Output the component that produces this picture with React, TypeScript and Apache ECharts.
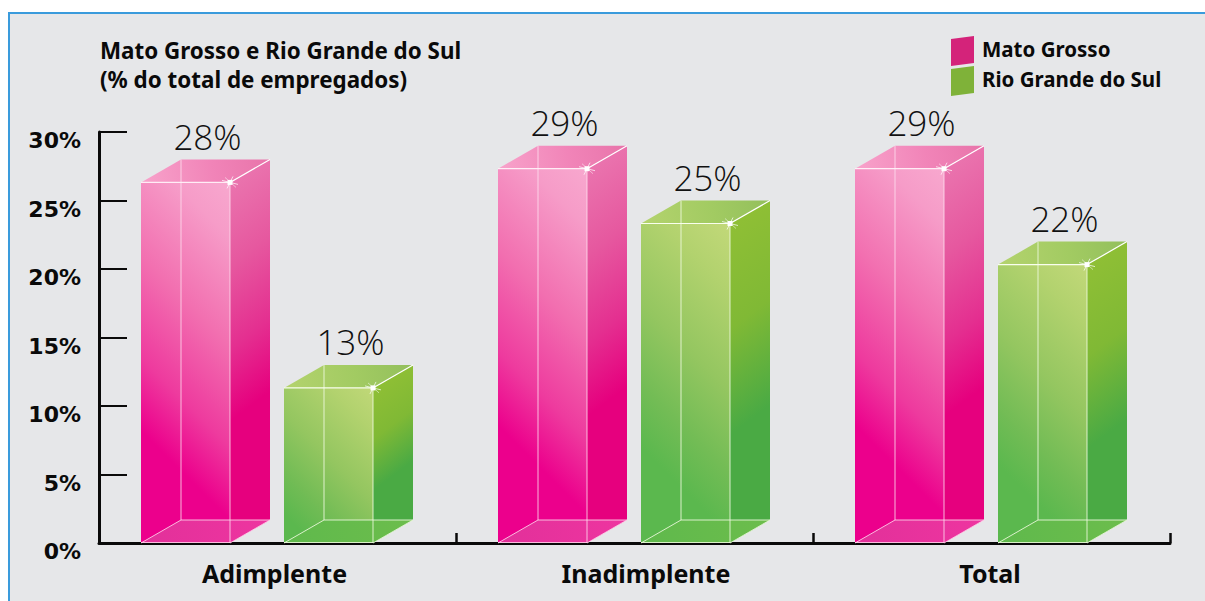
import React, { useEffect, useRef } from "react";
import * as echarts from "echarts";

const categories = ["Adimplente", "Inadimplente", "Total"];
const matoGrosso = [28, 29, 29];
const rioGrandeDoSul = [13, 25, 22];
const yTicks = [0, 5, 10, 15, 20, 25, 30];
const titleLines = ["Mato Grosso e Rio Grande do Sul", "(% do total de empregados)"];

type Stops = [number, string][];

// Gradient given in page pixels, so the shading angle stays true on tall, narrow faces.
const lg = (x0: number, y0: number, x1: number, y1: number, stops: Stops) =>
  new echarts.graphic.LinearGradient(
    x0, y0, x1, y1,
    stops.map(([offset, color]) => ({ offset, color })),
    true
  );

const pinkFaces = {
  front: [[0, "#f8abd0"], [0.2, "#f69cc8"], [0.5, "#f26fb0"], [0.78, "#ee3a9e"], [0.98, "#ec008c"], [1, "#ec008c"]] as Stops,
  side: [[0, "#ea74ae"], [0.35, "#e6589f"], [0.7, "#e42f90"], [1, "#e6007e"]] as Stops,
  top: [[0, "#f8a3cb"], [0.55, "#f184b8"], [1, "#e874aa"]] as Stops,
  floor: [[0, "#e2309a"], [1, "#ee35a0"]] as Stops,
  edge: "rgba(255,225,240,0.8)",
  edgeStrong: "rgba(255,240,248,0.95)",
};

const greenFaces = {
  front: [[0, "#c6da7c"], [0.25, "#b2d26e"], [0.55, "#94c660"], [0.8, "#72bc55"], [0.98, "#5bb84e"], [1, "#5bb84e"]] as Stops,
  side: [[0, "#8fbf35"], [0.5, "#80b935"], [1, "#4aaa44"]] as Stops,
  top: [[0, "#b4d36e"], [0.55, "#a2cb62"], [1, "#93bf5c"]] as Stops,
  floor: [[0, "#5fb94c"], [1, "#6cbd4c"]] as Stops,
  edge: "rgba(240,250,225,0.85)",
  edgeStrong: "rgba(250,255,240,0.98)",
};

const barWidth = 89;
const depthX = 40;
const depthY = 23;

function boxRenderer(offset: number, faces: typeof pinkFaces) {
  return (params: any, api: any) => {
    const value = api.value(1);
    const [cx, backTop] = api.coord([api.value(0), value]);
    const [, base] = api.coord([api.value(0), 0]);
    const l = cx + offset;
    const r = l + barWidth;
    const frontTop = backTop + depthY;
    const h = base - frontTop;

    const frontStartX = r - 15 + 28;
    const frontStartY = frontTop + 25 - 28;
    const frontRun = (100 + 0.43 * h) / Math.SQRT2;
    const frontFill = lg(frontStartX, frontStartY, frontStartX - frontRun, frontStartY + frontRun, faces.front);
    const sideRun = 0.53 * h;
    const sideFill = lg(r, frontTop, r + sideRun * 0.6, frontTop + sideRun * 0.8, faces.side);
    const topFill = lg(l, frontTop, r + depthX, backTop, faces.top);
    const floorFill = lg(l, base, r + depthX, base - depthY, faces.floor);

    const line = (x1: number, y1: number, x2: number, y2: number, stroke = faces.edge, lineWidth = 1) => ({
      type: "line",
      shape: { x1, y1, x2, y2 },
      style: { stroke, lineWidth, fill: null },
      silent: true,
    });
    const poly = (points: number[][], fill: any) => ({
      type: "polygon",
      shape: { points },
      style: { fill },
    });
    return {
      type: "group",
      children: [
        poly([[l, frontTop], [r, frontTop], [r, base], [l, base]], frontFill),
        poly([[r, frontTop], [r + depthX, backTop], [r + depthX, base - depthY], [r, base]], sideFill),
        poly([[l, frontTop], [l + depthX, backTop], [r + depthX, backTop], [r, frontTop]], topFill),
        poly([[l, base], [l + depthX, base - depthY], [r + depthX, base - depthY], [r, base]], floorFill),
        line(l + depthX, backTop, l + depthX, base - depthY),
        line(l + depthX, base - depthY, r + depthX, base - depthY),
        line(l, base, l + depthX, base - depthY),
        line(r, base, r + depthX, base - depthY),
        line(l, frontTop, r, frontTop, faces.edgeStrong, 1.2),
        line(r, frontTop, r, base),
        line(l, base - 0.5, r, base - 0.5),
        line(r, frontTop, r + depthX, backTop, "#ffffff", 1.2),
        // glint on the near top corner
        line(r - 8, frontTop - 2, r + 8, frontTop + 2, "rgba(255,255,255,0.7)", 1),
        line(r - 3, frontTop + 6, r + 3, frontTop - 6, "rgba(255,255,255,0.7)", 1),
        line(r - 5, frontTop - 5, r + 6, frontTop + 5, "rgba(255,255,255,0.5)", 1),
        {
          type: "rect",
          shape: { x: r - 2.5, y: frontTop - 2.5, width: 5, height: 5 },
          style: { fill: "#ffffff" },
        },
        {
          type: "text",
          style: {
            x: l + (barWidth + depthX) / 2 + 2,
            y: backTop - 23,
            text: `${value}%`,
            align: "center",
            verticalAlign: "middle",
            fill: "#111111",
            fontFamily: "Open Sans",
            fontWeight: 300,
            fontSize: 35,
          },
        },
      ],
    };
  };
}

const legendIcon = "path://M0,3 L23,0 L23,27 L0,30 Z";
const heading = { fontFamily: "Noto Sans", fontWeight: 700, color: "#0a0a0a" };
const axisName = { ...heading, fontSize: 25 };

export default function App() {
  const ref = useRef<HTMLDivElement>(null);
  useEffect(() => {
    document.body.style.margin = "0";
    const chart = echarts.init(ref.current!, undefined, { renderer: "svg" });
    const catData = categories.map((c, i) => i);
    chart.setOption({
      animation: false,
      backgroundColor: "#ffffff",
      graphic: [
        {
          type: "rect",
          z: -10,
          shape: { x: 9, y: 13, width: 1300, height: 700 },
          style: { fill: "#e6e7e9", stroke: "#3a9bdc", lineWidth: 2 },
        },
      ],
      title: {
        text: titleLines.join("\n"),
        left: 100,
        top: 36,
        padding: 0,
        textStyle: { ...heading, fontSize: 22.4, lineHeight: 29 },
      },
      legend: {
        left: 951,
        top: 36,
        padding: 0,
        orient: "vertical",
        itemWidth: 23,
        itemHeight: 30,
        itemGap: 0,
        selectedMode: false,
        formatter: (name: string) => `{t|${name}}`,
        textStyle: {
          rich: { t: { ...heading, fontSize: 20.5, padding: [0, 0, 5, 3] } },
        },
        data: [
          { name: "Mato Grosso", icon: legendIcon, itemStyle: { color: "#d4237a" } },
          { name: "Rio Grande do Sul", icon: legendIcon, itemStyle: { color: "#7fb239" } },
        ],
      },
      grid: { left: 99, right: 35, top: 132, bottom: 58 },
      xAxis: {
        type: "category",
        data: categories,
        axisLine: { lineStyle: { color: "#0a0a0a", width: 3 } },
        axisTick: { show: true, inside: true, length: 10, lineStyle: { color: "#0a0a0a", width: 2.5 } },
        axisLabel: {
          margin: 17,
          formatter: (v: string) => `{c${categories.indexOf(v)}|${v}}`,
          rich: {
            c0: { ...axisName, padding: [0, 6, 0, 0] },
            c1: { ...axisName, padding: [0, 0, 0, 23] },
            c2: { ...axisName, padding: [0, 3, 0, 0] },
          },
        },
      },
      yAxis: {
        type: "value",
        min: 0,
        max: 30,
        interval: 5,
        splitLine: { show: false },
        axisLine: { show: true, lineStyle: { color: "#0a0a0a", width: 3 } },
        axisTick: { show: true, inside: true, length: 28, lineStyle: { color: "#0a0a0a", width: 2 } },
        axisLabel: {
          margin: 18,
          verticalAlign: "top",
          lineHeight: 17,
          fontFamily: "DejaVu Sans",
          fontWeight: 700,
          fontSize: 22,
          color: "#0a0a0a",
          formatter: (v: number) => (yTicks.includes(v) ? `${v}%` : ""),
        },
      },
      series: [
        {
          name: "Mato Grosso",
          type: "custom",
          clip: false,
          itemStyle: { color: "#d4237a" },
          encode: { x: 0, y: 1 },
          data: catData.map((i) => [i, matoGrosso[i]]),
          renderItem: boxRenderer(-136.5, pinkFaces),
        },
        {
          name: "Rio Grande do Sul",
          type: "custom",
          clip: false,
          itemStyle: { color: "#7fb239" },
          encode: { x: 0, y: 1 },
          data: catData.map((i) => [i, rioGrandeDoSul[i]]),
          renderItem: boxRenderer(6.5, greenFaces),
        },
      ],
    });
    return () => chart.dispose();
  }, []);
  return <div ref={ref} style={{ width: 1205, height: 601 }} />;
}
